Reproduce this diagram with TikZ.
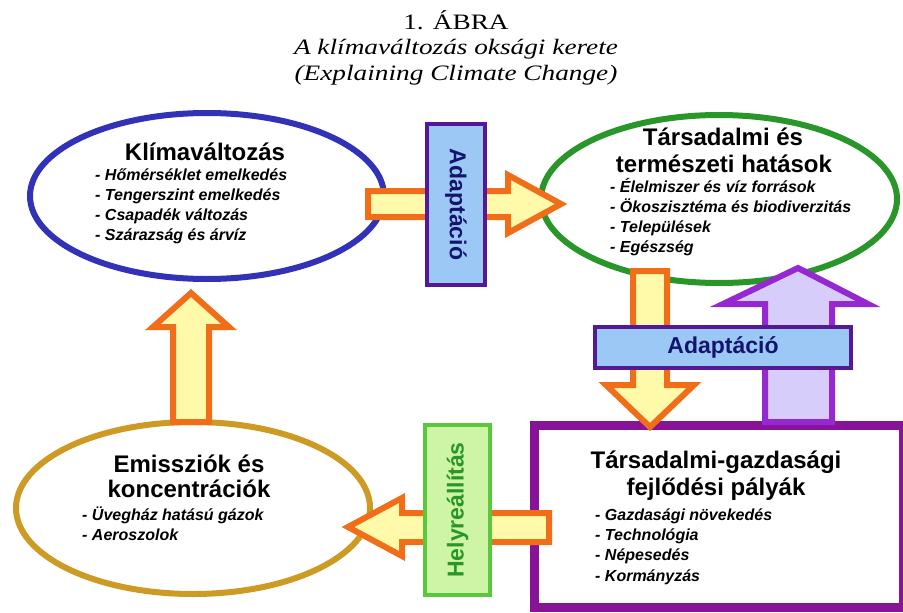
\documentclass[tikz,border=0pt]{standalone}
\usepackage{fontspec}
\setmainfont{Liberation Serif}
\newfontfamily\arialf{Liberation Sans}
\usetikzlibrary{shapes.geometric}
\definecolor{klblue}{RGB}{50,50,185}
\definecolor{hatgreen}{RGB}{40,150,40}
\definecolor{emgold}{RGB}{205,155,35}
\definecolor{pathpurple}{RGB}{135,20,150}
\definecolor{arrowor}{RGB}{240,110,25}
\definecolor{arrowfill}{RGB}{255,250,170}
\definecolor{uppurple}{RGB}{150,40,210}
\definecolor{upfill}{RGB}{215,205,250}
\definecolor{adaptborder}{RGB}{85,25,150}
\definecolor{adaptfill}{RGB}{155,200,245}
\definecolor{adapttext}{RGB}{20,20,110}
\definecolor{helyborder}{RGB}{90,200,60}
\definecolor{helyfill}{RGB}{205,245,165}
\definecolor{helytext}{RGB}{40,150,40}
\newcommand{\widetxt}[1]{\scalebox{1.24}[1]{#1}}
\begin{document}
\begin{tikzpicture}[x=1pt,y=-1pt,
  ovalbox/.style={ellipse, draw, line width=6pt, inner sep=0pt},
  headtxt/.style={font=\arialf\bfseries\fontsize{24}{24}\selectfont, anchor=base, inner sep=0pt},
  itemtxt/.style={font=\arialf\bfseries\itshape\fontsize{16}{16}\selectfont, anchor=base west, inner sep=0pt},
  titletxt/.style={font=\fontsize{22}{22}\selectfont, anchor=base, inner sep=0pt},
  blockarrow/.style={line width=6pt, line join=miter, miter limit=10},
  orangearrow/.style={blockarrow, draw=arrowor, fill=arrowfill},
  purplearrow/.style={blockarrow, draw=uppurple, fill=upfill},
  adaptbox/.style={draw=adaptborder, fill=adaptfill, line width=4pt, inner sep=0pt,
    text=adapttext, font=\arialf\bfseries\fontsize{23}{23}\selectfont},
  helybox/.style={draw=helyborder, fill=helyfill, line width=4pt, inner sep=0pt,
    text=helytext, font=\arialf\bfseries\fontsize{23}{23}\selectfont}
]
\fill[white] (0,0) rectangle (903,613);
\useasboundingbox (0,0) rectangle (903,613);

% title
\node[titletxt] (t1) at (456,29) {\widetxt{1. ÁBRA}};
\node[titletxt, font=\itshape\fontsize{22}{22}\selectfont] (t2) at (456,54) {\widetxt{A klímaváltozás oksági kerete}};
\node[titletxt, font=\itshape\fontsize{22}{22}\selectfont] (t3) at (456,80) {\widetxt{(Explaining Climate Change)}};

% main shapes
\node[ovalbox, draw=klblue, minimum width=354pt, minimum height=166pt] (klima) at (207,196) {};
\node[ovalbox, draw=hatgreen, minimum width=356pt, minimum height=168pt] (hatas) at (719,199) {};
\node[ovalbox, draw=emgold, minimum width=354pt, minimum height=172pt] (emis) at (193,508) {};
\node[draw=pathpurple, line width=9pt, inner sep=0pt, minimum width=369pt, minimum height=182.5pt] (palya) at (718.5,516.25) {};

% block arrows
\draw[orangearrow] (368,191) -- (508,191) -- (508,175) -- (561,204) -- (508,233) -- (508,217) -- (368,217) -- cycle;
\draw[orangearrow] (173,422) -- (173,327) -- (153,327) -- (191,293) -- (229,327) -- (209,327) -- (209,422) -- cycle;
\draw[orangearrow] (633,271) -- (667,271) -- (667,385) -- (694,385) -- (650,427) -- (606,385) -- (633,385) -- cycle;
\draw[purplearrow] (765,422) -- (765,304) -- (723,304) -- (798,268) -- (868,304) -- (832,304) -- (832,422) -- cycle;
\draw[orangearrow] (549,513) -- (402,513) -- (402,498) -- (348,527) -- (402,556) -- (402,542) -- (549,542) -- cycle;

% label boxes
\node[adaptbox, rotate=-90, minimum width=161pt, minimum height=58pt] (adapt1) at (456,204.5) {Adaptáció};
\node[adaptbox, minimum width=256pt, minimum height=41pt] (adapt2) at (723,347.5) {Adaptáció};
\node[helybox, rotate=90, minimum width=170pt, minimum height=65pt] (hely) at (457.5,510) {Helyreállítás};

% texts
\node[headtxt] (klimah) at (205,160) {Klímaváltozás};
\foreach \t [count=\i] in {- Hőmérséklet emelkedés, - Tengerszint emelkedés, - Csapadék változás, - Szárazság és árvíz}
  \node[itemtxt] (klimai\i) at (95,160+20*\i) {\t};

\node[headtxt] (hatash1) at (723,145) {Társadalmi és};
\node[headtxt] (hatash2) at (724,172) {természeti hatások};
\foreach \t [count=\i] in {- Élelmiszer és víz források, - Ökoszisztéma és biodiverzitás, - Települések, - Egészség}
  \node[itemtxt] (hatasi\i) at (610,172+20*\i) {\t};

\node[headtxt] (emish1) at (189,472) {Emissziók és};
\node[headtxt] (emish2) at (189,497) {koncentrációk};
\foreach \t [count=\i] in {- Üvegház hatású gázok, - Aeroszolok}
  \node[itemtxt] (emisi\i) at (82,500+20*\i) {\t};

\node[headtxt] (palyah1) at (716,468) {Társadalmi-gazdasági};
\node[headtxt] (palyah2) at (716,495) {fejlődési pályák};
\foreach \t [count=\i] in {- Gazdasági növekedés, - Technológia, - Népesedés, - Kormányzás}
  \node[itemtxt] (palyai\i) at (595,500+20.3*\i) {\t};
\end{tikzpicture}
\end{document}
